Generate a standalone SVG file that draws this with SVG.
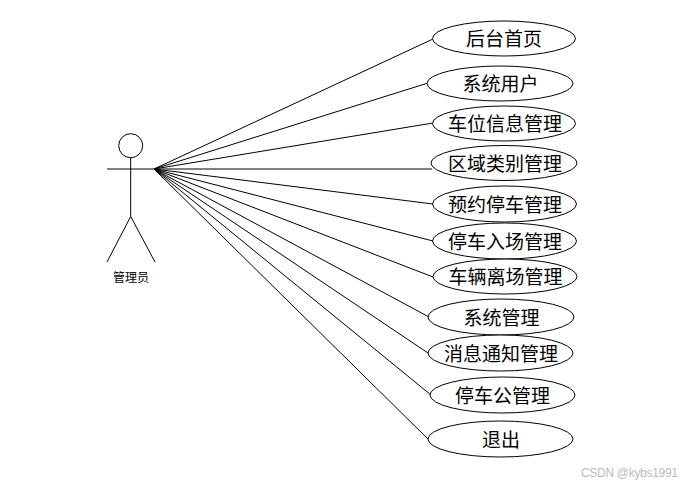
<svg xmlns="http://www.w3.org/2000/svg" width="691" height="487" viewBox="0 0 691 487">
<style>
.s{fill:none;stroke:#000;stroke-width:1}
.e{fill:#fff;stroke:#000;stroke-width:1}
text{font-family:"Noto Sans CJK SC","Liberation Sans",sans-serif;fill:#000;text-anchor:middle;font-weight:400}
.t{font-size:19px;letter-spacing:0}
.a{font-size:12px}
.w{font-size:12px;fill:#bbb;font-family:"Liberation Sans",sans-serif;text-anchor:start}
</style>
<rect width="691" height="487" fill="#fff"/>
<g id="connectors" class="s">
<path d="M154 169L433 39"/>
<path d="M154 169L428 83"/>
<path d="M154 169L433 123"/>
<path d="M154 169L432 169"/>
<path d="M154 169L433 204"/>
<path d="M154 169L433 241"/>
<path d="M154 169L433 277"/>
<path d="M154 169L429 317"/>
<path d="M154 169L428 353"/>
<path d="M154 169L431 395"/>
<path d="M154 169L428 439"/>
</g>
<g id="actor">
<circle class="s" cx="130.700" cy="145.700" r="12"/>
<path class="s" d="M107 169H155M130.700 157.700V216.500M130.700 216.500L107 262M130.700 216.500L155 262"/>
<text class="a" x="131" y="282">管理员</text>
</g>
<g id="n1"><ellipse class="e" cx="504" cy="38.500" rx="71.500" ry="17.500"/><text class="t" x="504" y="46">后台首页</text></g>
<g id="n2"><ellipse class="e" cx="500" cy="83.500" rx="73" ry="17.500"/><text class="t" x="500.500" y="91">系统用户</text></g>
<g id="n3"><ellipse class="e" cx="504" cy="123.500" rx="71.500" ry="17.500"/><text class="t" x="505" y="131">车位信息管理</text></g>
<g id="n4"><ellipse class="e" cx="504" cy="163" rx="73" ry="17.500"/><text class="t" x="505" y="171">区域类别管理</text></g>
<g id="n5"><ellipse class="e" cx="504.500" cy="204" rx="72" ry="18"/><text class="t" x="505" y="212">预约停车管理</text></g>
<g id="n6"><ellipse class="e" cx="504.500" cy="241" rx="72" ry="18"/><text class="t" x="505" y="249">停车入场管理</text></g>
<g id="n7"><ellipse class="e" cx="505" cy="276.500" rx="72" ry="17.500"/><text class="t" x="505.500" y="284">车辆离场管理</text></g>
<g id="n8"><ellipse class="e" cx="501" cy="317" rx="73" ry="18"/><text class="t" x="501.500" y="325">系统管理</text></g>
<g id="n9"><ellipse class="e" cx="500.500" cy="353" rx="72.500" ry="18"/><text class="t" x="501" y="361">消息通知管理</text></g>
<g id="n10"><ellipse class="e" cx="502.500" cy="395" rx="72.500" ry="18"/><text class="t" x="502.500" y="403">停车公管理</text></g>
<g id="n11"><ellipse class="e" cx="500.500" cy="439" rx="72.500" ry="18"/><text class="t" x="501" y="447">退出</text></g>
<text class="w" x="581" y="477" textLength="97">CSDN @kybs1991</text>
</svg>
